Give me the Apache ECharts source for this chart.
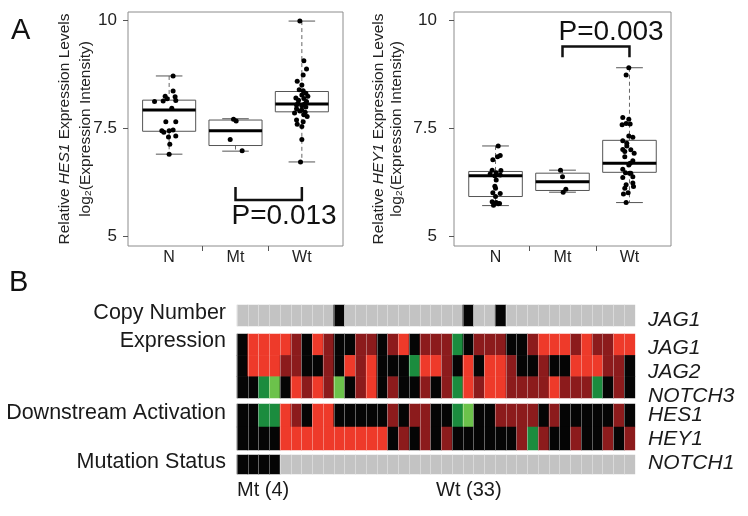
<!DOCTYPE html>
<html>
<head>
<meta charset="utf-8">
<script src="https://cdn.jsdelivr.net/npm/echarts@6/dist/echarts.min.js"></script>
<style>
html, body { margin: 0; padding: 0; background: #fff; }
#chart { width: 748px; height: 516px; }
</style>
</head>
<body>
<div id="chart"></div>
<script>
var FONT = '"Liberation Sans", Arial, sans-serif';

// ---- panel A ----
var groups = ['N', 'Mt', 'Wt'];
// box stats per group: [min, q1, median, q3, max]
var hes1Box = [
  [6.91, 7.44, 7.93, 8.16, 8.72],
  [6.98, 7.11, 7.45, 7.70, 7.73],
  [6.73, 7.89, 8.07, 8.36, 9.99]
];
var hey1Box = [
  [5.72, 5.93, 6.41, 6.51, 7.10],
  [6.03, 6.07, 6.27, 6.47, 6.54],
  [5.79, 6.49, 6.70, 7.23, 8.91]
];
// jittered points: [offset from group centre, value]
var hes1N = [[0.06, 8.72], [0.06, 8.37], [0.09, 8.24], [-0.06, 8.25], [-0.03, 8.19], [0.10, 8.15],
  [-0.22, 8.13], [-0.09, 8.14], [0.04, 7.97], [-0.05, 7.66], [0.10, 7.66], [-0.11, 7.45],
  [0.00, 7.45], [0.06, 7.47], [-0.08, 7.42], [-0.01, 7.31], [0.10, 7.33], [0.01, 7.14], [0.00, 6.91]];
var hes1Mt = [[-0.03, 7.72], [0.01, 7.68], [-0.08, 7.25], [0.10, 6.99]];
var hes1Wt = [[-0.03, 9.99], [0.03, 9.07], [0.07, 8.88], [0.02, 8.74], [-0.07, 8.60], [0.00, 8.51],
  [-0.04, 8.40], [0.02, 8.38], [0.06, 8.32], [0.00, 8.28], [0.03, 8.20], [-0.05, 8.16],
  [0.07, 8.13], [-0.08, 8.05], [0.00, 8.03], [0.06, 8.00], [-0.08, 7.96], [0.00, 7.93],
  [-0.11, 7.86], [0.03, 7.82], [-0.08, 7.70], [0.02, 7.66], [0.00, 7.55], [0.00, 7.25],
  [-0.02, 6.73], [-0.06, 8.08], [0.04, 8.07], [0.09, 8.25], [-0.03, 7.91], [0.05, 7.88],
  [-0.09, 8.21], [0.08, 7.78], [-0.07, 7.60]];
var hey1N = [[0.04, 7.10], [0.07, 6.88], [0.03, 6.85], [-0.04, 6.78], [-0.05, 6.54], [0.08, 6.53],
  [0.01, 6.48], [-0.08, 6.45], [-0.01, 6.41], [0.07, 6.43], [0.01, 6.31], [-0.01, 6.17],
  [0.00, 6.12], [-0.04, 6.02], [0.07, 6.00], [0.00, 5.93], [-0.05, 5.81], [0.01, 5.79],
  [0.06, 5.77], [-0.03, 5.73], [0.04, 5.76]];
var hey1Mt = [[-0.03, 6.54], [0.00, 6.39], [0.05, 6.10], [0.01, 6.03]];
var hey1Wt = [[-0.01, 8.91], [-0.05, 8.74], [-0.10, 7.76], [-0.01, 7.72], [-0.05, 7.62], [-0.11, 7.59],
  [0.01, 7.61], [-0.01, 7.33], [-0.10, 7.22], [-0.04, 7.16], [-0.10, 7.02], [0.02, 7.01],
  [0.07, 6.93], [-0.07, 6.85], [0.05, 6.76], [-0.01, 6.66], [-0.10, 6.56], [-0.06, 6.48],
  [0.02, 6.47], [-0.10, 6.37], [0.05, 6.39], [-0.05, 6.20], [0.05, 6.24], [-0.07, 6.12],
  [0.06, 6.16], [-0.02, 6.02], [-0.09, 5.99], [-0.05, 5.79], [0.01, 6.70], [-0.04, 7.10],
  [0.05, 7.30], [-0.07, 6.97], [0.00, 6.47]];
var yTicks = [5, 7.5, 10];
// significance brackets: [from group, to group, bar value, arm value, text value, text]
var hes1Sig = [2, 3, 5.85, 6.15, 5.47, 'P=0.013'];
var hey1Sig = [2, 3, 9.40, 9.15, 9.74, 'P=0.003'];

// ---- panel B ----
// codes: '-' no change, K black, D dark red, R red, G dark green, L light green
var copyRows = ['JAG1'];
var copyJAG1 = '---------K-----------K--K------------';
var exprRows = ['JAG1', 'JAG2', 'NOTCH3'];
var exprJAG1 = 'KRRRRDKRDKKDDKDRKDDDGKDDDKKDRRRDRDDRR';
var exprJAG2 = 'KRRRDDKKDKRDRKKKGRRDKRKRRDKKDKKRRRDDK';
var exprNOTCH3 = 'KKGLKRDRDLKDRKDKKDKDGRDRRDDDDRDDDGKDK';
var downRows = ['HES1', 'HEY1'];
var downHES1 = 'KKGGRDKRRKKKKKDKDDKKGLKKDDDDKDKKKKKDK';
var downHEY1 = 'KKKKRRRRRRRRRRKDKDKDKKKKKKDGDKKDKKDKD';
var mutRows = ['NOTCH1'];
var mutNOTCH1 = 'KKKK---------------------------------';
var codeValue = { '-': 0, K: 1, D: 2, R: 3, G: 4, L: 5 };
var codeColors = ['#c3c3c3', '#050505', '#8c1b1c', '#ee3a2a', '#1b8c3e', '#6cc24b'];

var columns = [];
for (var c = 0; c < copyJAG1.length; c++) columns.push(String(c));

function pointsOf(list, g) {
  return list.map(function (p) { return [g + p[0], p[1]]; });
}
function boxData(stats) {
  return stats.map(function (s, i) { return [i + 1].concat(s); });
}
function cells(rows) {
  var out = [];
  rows.forEach(function (row, r) {
    row.split('').forEach(function (ch, c) { out.push([c, r, codeValue[ch]]); });
  });
  return out;
}

function renderBox(params, api) {
  var x = api.value(0);
  var lo = api.coord([x, api.value(1)]);
  var q1 = api.coord([x, api.value(2)]);
  var md = api.coord([x, api.value(3)]);
  var q3 = api.coord([x, api.value(4)]);
  var hi = api.coord([x, api.value(5)]);
  var w = api.size([0.8, 0])[0];
  var cx = q1[0];
  var dash = { stroke: '#666', lineWidth: 1, lineDash: [4, 3] };
  var solid = { stroke: '#555', lineWidth: 1 };
  return { type: 'group', children: [
    { type: 'line', shape: { x1: cx, y1: hi[1], x2: cx, y2: q3[1] }, style: dash },
    { type: 'line', shape: { x1: cx, y1: q1[1], x2: cx, y2: lo[1] }, style: dash },
    { type: 'line', shape: { x1: cx - w / 4, y1: hi[1], x2: cx + w / 4, y2: hi[1] }, style: solid },
    { type: 'line', shape: { x1: cx - w / 4, y1: lo[1], x2: cx + w / 4, y2: lo[1] }, style: solid },
    { type: 'rect', shape: { x: cx - w / 2, y: q3[1], width: w, height: q1[1] - q3[1] },
      style: { fill: 'rgba(255,255,255,0)', stroke: '#555', lineWidth: 1 } },
    { type: 'line', shape: { x1: cx - w / 2, y1: md[1], x2: cx + w / 2, y2: md[1] },
      style: { stroke: '#000', lineWidth: 3 } }
  ]};
}

function renderSig(params, api) {
  var a = api.coord([api.value(0), api.value(2)]);
  var b = api.coord([api.value(1), api.value(2)]);
  var armY = api.coord([api.value(0), api.value(3)])[1];
  var t = api.coord([api.value(0), api.value(4)]);
  return { type: 'group', children: [
    { type: 'polyline', shape: { points: [[a[0], armY], [a[0], a[1]], [b[0], b[1]], [b[0], armY]] },
      style: { stroke: '#111', lineWidth: 2.5, fill: null } },
    { type: 'text', x: t[0] - 4, y: t[1],
      style: { text: api.value(5), fill: '#111', fontSize: 28, fontFamily: FONT, verticalAlign: 'middle', align: 'left' } }
  ]};
}

function boxAxes(gi, labelMargin, gene, lh, gap) {
  return {
    x: {
      type: 'value', gridIndex: gi, min: 0.38, max: 3.62,
      axisLine: { show: false }, splitLine: { show: false },
      axisTick: { show: true, customValues: [1.5, 2.5], length: 5, lineStyle: { color: '#555' } },
      axisLabel: { customValues: [1, 2, 3], formatter: function (v) { return groups[Math.round(v) - 1]; },
        fontSize: 16, fontFamily: FONT, color: '#222', margin: 4 }
    },
    y: {
      type: 'value', gridIndex: gi, min: 4.785, max: 10.2,
      axisLine: { show: false }, splitLine: { show: false },
      axisTick: { show: true, customValues: yTicks, length: 5, lineStyle: { color: '#555' } },
      axisLabel: { customValues: yTicks, fontSize: 17, fontFamily: FONT, color: '#222', margin: labelMargin },
      name: '{t|Relative }{i|' + gene + '}{t| Expression Levels}\n{t|log\u2082(Expression Intensity)}',
      nameLocation: 'middle', nameRotate: 90, nameGap: gap, nameMoveOverlap: false,
      nameTextStyle: { lineHeight: lh, rich: {
        t: { fontSize: 15.5, fontFamily: FONT, color: '#222', lineHeight: lh },
        i: { fontSize: 15.5, fontFamily: FONT, fontStyle: 'italic', color: '#222', lineHeight: lh }
      } }
    }
  };
}
var ax0 = boxAxes(0, 11, 'HES1', 21, 32);
var ax1 = boxAxes(1, 17, 'HEY1', 18, 48);

// right-hand row labels, each nudged down by the given pixels
function heatAxes(gi, rows, nudges) {
  var rich = {};
  nudges.forEach(function (n, i) {
    rich['r' + i] = { fontSize: 21, fontStyle: 'italic', fontFamily: FONT, color: '#1a1a1a',
      padding: n >= 0 ? [2 * n, 0, 0, 0] : [0, 0, -2 * n, 0] };
  });
  return {
    x: { type: 'category', gridIndex: gi, data: columns, z: 5,
      axisLine: { show: false }, axisTick: { show: false }, axisLabel: { show: false },
      splitLine: { show: true, interval: 0, lineStyle: { color: 'rgba(255,255,255,0.35)', width: 1 } } },
    y: { type: 'category', gridIndex: gi, data: rows, inverse: true, position: 'right',
      axisLine: { show: false }, axisTick: { show: false }, splitLine: { show: false },
      axisLabel: { interval: 0, margin: 13, rich: rich,
        formatter: function (v, i) { return '{r' + i + '|' + v + '}'; } } }
  };
}
var hCopy = heatAxes(2, copyRows, [5]);
var hExpr = heatAxes(3, exprRows, [3, 6, 9]);
var hDown = heatAxes(4, downRows, [0, 1]);
var hMut = heatAxes(5, mutRows, [-1]);

function groupLabel(text, y) {
  return { type: 'text', x: 226, y: y,
    style: { text: text, align: 'right', verticalAlign: 'middle', fontSize: 21.5, fontFamily: FONT, fill: '#1a1a1a' } };
}

var option = {
  animation: false,
  backgroundColor: '#fff',
  grid: [
    { left: 128, top: 12, width: 215, height: 234, show: true, borderColor: '#8c8c8c', borderWidth: 1, backgroundColor: 'transparent' },
    { left: 454, top: 12, width: 217, height: 234, show: true, borderColor: '#8c8c8c', borderWidth: 1, backgroundColor: 'transparent' },
    { left: 237, top: 305, width: 398, height: 21 },
    { left: 237, top: 334, width: 398, height: 64 },
    { left: 237, top: 404, width: 398, height: 46 },
    { left: 237, top: 455, width: 398, height: 19 }
  ],
  xAxis: [ax0.x, ax1.x, hCopy.x, hExpr.x, hDown.x, hMut.x],
  yAxis: [ax0.y, ax1.y, hCopy.y, hExpr.y, hDown.y, hMut.y],
  visualMap: {
    type: 'piecewise', show: false, dimension: 2, seriesIndex: [6, 7, 8, 9],
    pieces: codeColors.map(function (col, i) { return { value: i, color: col }; })
  },
  graphic: [
    { type: 'text', x: 11, y: 31, style: { text: 'A', fontSize: 29, fontFamily: FONT, fill: '#111', verticalAlign: 'middle' } },
    { type: 'text', x: 9, y: 283, style: { text: 'B', fontSize: 29, fontFamily: FONT, fill: '#111', verticalAlign: 'middle' } },
    groupLabel('Copy Number', 313),
    groupLabel('Expression', 341),
    groupLabel('Downstream Activation', 413),
    groupLabel('Mutation Status', 462),
    { type: 'text', x: 237, y: 490, style: { text: 'Mt (4)', fontSize: 20, fontFamily: FONT, fill: '#1a1a1a', verticalAlign: 'middle' } },
    { type: 'text', x: 436, y: 490, style: { text: 'Wt (33)', fontSize: 20, fontFamily: FONT, fill: '#1a1a1a', verticalAlign: 'middle' } }
  ],
  series: [
    { type: 'custom', xAxisIndex: 0, yAxisIndex: 0, renderItem: renderBox, data: boxData(hes1Box), z: 2 },
    { type: 'scatter', xAxisIndex: 0, yAxisIndex: 0, symbolSize: 5, itemStyle: { color: '#000', opacity: 1 }, z: 3,
      data: pointsOf(hes1N, 1).concat(pointsOf(hes1Mt, 2), pointsOf(hes1Wt, 3)) },
    { type: 'custom', xAxisIndex: 0, yAxisIndex: 0, renderItem: renderSig, data: [hes1Sig], z: 4 },
    { type: 'custom', xAxisIndex: 1, yAxisIndex: 1, renderItem: renderBox, data: boxData(hey1Box), z: 2 },
    { type: 'scatter', xAxisIndex: 1, yAxisIndex: 1, symbolSize: 5, itemStyle: { color: '#000', opacity: 1 }, z: 3,
      data: pointsOf(hey1N, 1).concat(pointsOf(hey1Mt, 2), pointsOf(hey1Wt, 3)) },
    { type: 'custom', xAxisIndex: 1, yAxisIndex: 1, renderItem: renderSig, data: [hey1Sig], z: 4 },
    { type: 'heatmap', xAxisIndex: 2, yAxisIndex: 2, data: cells([copyJAG1]) },
    { type: 'heatmap', xAxisIndex: 3, yAxisIndex: 3, data: cells([exprJAG1, exprJAG2, exprNOTCH3]) },
    { type: 'heatmap', xAxisIndex: 4, yAxisIndex: 4, data: cells([downHES1, downHEY1]) },
    { type: 'heatmap', xAxisIndex: 5, yAxisIndex: 5, data: cells([mutNOTCH1]) }
  ]
};

var chart = echarts.init(document.getElementById('chart'));
chart.setOption(option);
</script>
</body>
</html>
